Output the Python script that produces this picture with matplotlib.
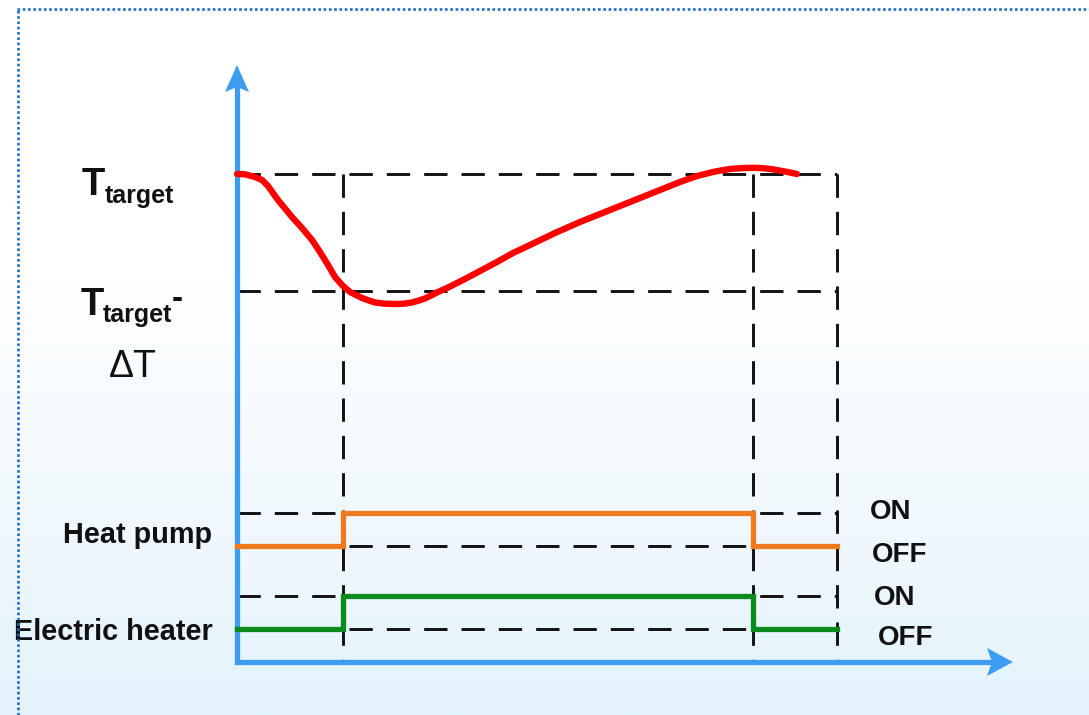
import numpy as np
import matplotlib
matplotlib.use("Agg")
import matplotlib.pyplot as plt
from matplotlib.lines import Line2D

# ---------------- data (schematic units: 1 unit = 10 px) ----------------
switch_times = [0.0, 10.6, 51.6, 60.0]      # start, switch on, switch off, end
T_target = 48.8
T_low = 37.1                                 # T_target - dT

temp_time = [0.0, 0.8, 1.8, 2.5, 3.1, 4.1, 5.5, 6.5, 7.5, 8.3, 9.1, 9.8, 10.5,
             11.3, 12.5, 13.2, 13.8, 14.8, 15.8, 16.7, 17.5, 18.2, 18.8, 19.3,
             20.1, 21.0, 22.6, 24.3, 26.0, 27.6, 29.3, 31.8, 34.3, 36.8, 39.3,
             41.8, 44.3, 46.0, 47.6, 48.5, 49.3, 50.2, 51.0, 51.8, 52.6, 53.5,
             54.3, 55.2, 56.0]
temp_val = [48.8, 48.77, 48.5, 48.2, 47.6, 46.2, 44.5, 43.4, 42.2, 41.0, 39.7,
            38.5, 37.7, 37.0, 36.4, 36.15, 35.95, 35.83, 35.8, 35.83, 35.95,
            36.15, 36.35, 36.6, 37.0, 37.4, 38.2, 39.1, 40.0, 40.9, 41.7, 42.9,
            44.0, 45.0, 46.0, 47.0, 48.0, 48.6, 49.0, 49.17, 49.3, 49.37, 49.41,
            49.42, 49.38, 49.28, 49.14, 48.97, 48.8]

hp_off, hp_on = 11.6, 14.9
eh_off, eh_on = 3.3, 6.6
state_times = [0.0, 10.6, 51.6, 60.0]
state_vals = [0, 1, 0, 0]

device_labels = ["Heat pump", "Electric heater"]
state_labels = ["ON", "OFF", "ON", "OFF"]

# ---------------- figure ----------------
W, H = 1089, 715
fig = plt.figure(figsize=(W / 100, H / 100), dpi=100)
ax = fig.add_axes([0, 0, 1, 1])
x0_px, y0_px = 237, 662
xmin, xmax = -x0_px / 10, (W - x0_px) / 10
ymin, ymax = -(H - y0_px) / 10, y0_px / 10
ax.set_xlim(xmin, xmax)
ax.set_ylim(ymin, ymax)
ax.axis("off")

# background gradient (white top -> light blue bottom)
rows = np.linspace(0, 1, 400)
top = np.array([1.0, 1.0, 1.0])
bot = np.array([228, 243, 252]) / 255
frac = np.clip((rows - 0.39) / 0.61, 0, 1)[:, None]
grad = top * (1 - frac) + bot * frac
img = np.repeat(grad[:, None, :], 2, axis=1)
ax.imshow(img, extent=[xmin, xmax, ymin, ymax], aspect="auto", zorder=0)

# dotted frame
dot_col = "#1f6dc4"
fig.add_artist(Line2D([17 / W, 1.0], [1 - 8.5 / H, 1 - 8.5 / H], transform=fig.transFigure,
                      color=dot_col, lw=1.9, linestyle=(0, (1, 1)), dash_capstyle="butt"))
fig.add_artist(Line2D([18 / W, 18 / W], [0, 1 - 8.5 / H], transform=fig.transFigure,
                      color=dot_col, lw=1.9, linestyle=(0, (1, 1)), dash_capstyle="butt"))

# dashed guide lines
dash = dict(color="#111111", lw=2.1, linestyle=(0, (8.0, 4.8)), dash_capstyle="butt", zorder=2)
t_on, t_off, t_end = switch_times[1], switch_times[2], switch_times[3]
for lvl in [T_target, T_low, hp_on, hp_off, eh_on, eh_off]:
    ax.plot([0, t_end], [lvl, lvl], **dash)
for tv in [t_on, t_off, t_end]:
    ax.plot([tv, tv], [T_target, 0], **dash)

# axes with arrows
blue = "#3d9bf0"
ax.plot([0, 0, 75.6], [57.6, 0, 0], color=blue, lw=3.8, solid_joinstyle="miter",
        solid_capstyle="butt", zorder=4)
ax.fill([0, -1.2, 0, 1.2], [59.7, 57.0, 57.5, 57.0], color=blue, zorder=4, lw=0)
ax.fill([77.6, 75.0, 75.5, 75.0], [0, 1.4, 0, -1.4], color=blue, zorder=4, lw=0)

# temperature curve
ax.plot(temp_time, temp_val, color="#ff0000", lw=4.6, solid_capstyle="round",
        solid_joinstyle="round", zorder=5)

# device state signals
hp_y = [hp_off + s * (hp_on - hp_off) for s in state_vals]
eh_y = [eh_off + s * (eh_on - eh_off) for s in state_vals]
ax.step(state_times, hp_y, where="post", color="#f07a1e", lw=3.8, zorder=5,
        solid_joinstyle="miter")
ax.step(state_times, eh_y, where="post", color="#0d8a1c", lw=3.8, zorder=5,
        solid_joinstyle="miter")

# ---------------- texts ----------------
fam = ["Liberation Sans", "DejaVu Sans"]
tk = dict(family=fam, weight="bold", color="#111111", va="baseline", ha="left")
ax.text(-15.5, 46.7, "T", fontsize=27.5, **tk)
ax.text(-13.2, 45.9, "target", fontsize=18, **tk)
ax.text(-15.6, 34.7, "T", fontsize=27.5, **tk)
ax.text(-13.4, 34.0, "target", fontsize=18, **tk)
ax.text(-6.5, 35.4, "-", fontsize=24, **tk)
ax.text(-12.8, 28.5, "ΔT", fontsize=27, family=fam, color="#111111", va="baseline", ha="left")

lk = dict(family=fam, weight="bold", color="#111111", va="baseline", ha="right", fontsize=20.8)
ax.text(-2.5, 11.9, device_labels[0], **lk)
ax.text(-2.4, 2.2, device_labels[1], **lk)

sk = dict(family=fam, weight="bold", color="#111111", va="baseline", ha="left", fontsize=20)
state_pos = [(63.3, 14.3), (63.5, 10.0), (63.7, 5.7), (64.1, 1.7)]
for (sx, sy), lab in zip(state_pos, state_labels):
    ax.text(sx, sy, lab, **sk)

fig.savefig("out.png", dpi=100)
